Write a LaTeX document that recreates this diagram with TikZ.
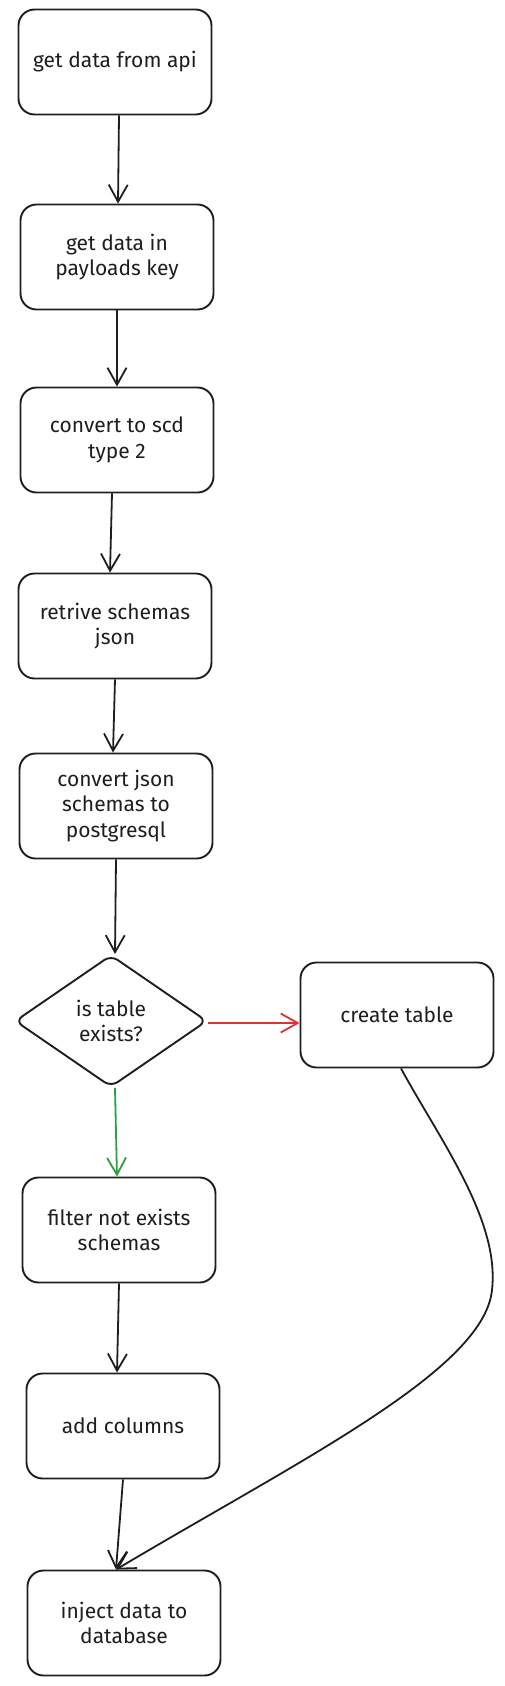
\documentclass[tikz,border=0pt]{standalone}
\usepackage{fontspec}
\setmainfont{Fira Sans}
\usetikzlibrary{shapes.geometric,arrows.meta}
\definecolor{exred}{HTML}{E03131}
\definecolor{exgreen}{HTML}{2F9E44}
\definecolor{exink}{HTML}{1E1E1E}
\tikzset{
  stepbox/.style={draw=exink, line width=1.9pt, rounded corners=16pt, minimum width=193pt, minimum height=105pt, inner sep=4pt, align=center, font=\fontsize{21}{25.5}\selectfont, text=exink},
  decision/.style={draw=exink, line width=1.9pt, diamond, rounded corners=8pt, minimum width=192pt, minimum height=132pt, inner sep=0pt, align=center, font=\fontsize{21}{25.5}\selectfont, text=exink},
  flow/.style={draw=exink, line width=1.8pt, -{Straight Barb[length=17pt,width=19pt]}},
}
\begin{document}
\begin{tikzpicture}[x=1pt,y=-1pt]
\useasboundingbox (0,0) rectangle (504,1686);
\node[stepbox] (api) at (115,62) {get data from api};
\node[stepbox] (payload) at (117,257) {get data in\\payloads key};
\node[stepbox] (scd) at (117,440) {convert to scd\\type 2};
\node[stepbox] (retr) at (115,626) {retrive schemas\\json};
\node[stepbox] (conv) at (116,806) {convert json\\schemas to\\postgresql};
\node[decision] (exists) at (111,1021) {is table\\exists?};
\node[stepbox] (create) at (397,1015) {create table};
\node[stepbox] (filter) at (119,1230) {filter not exists\\schemas};
\node[stepbox] (addcol) at (123,1426) {add columns};
\node[stepbox] (inject) at (124,1623) {inject data to\\database};
\coordinate (bend) at (492,1290);
\draw[flow] ([xshift=4pt]api.south) -- ([xshift=1pt]payload.north);
\draw[flow] (payload.south) -- (scd.north);
\draw[flow] ([xshift=-5pt]scd.south) -- ([xshift=-5pt]retr.north);
\draw[flow] (retr.south) -- ([xshift=-3pt]conv.north);
\draw[flow] (conv.south) -- ([xshift=4pt]exists.north);
\draw[flow, draw=exred] ([yshift=-2pt]exists.east) -- ([yshift=-2pt]exists.east -| create.west);
\draw[flow, draw=exgreen] ([xshift=4pt]exists.south) -- ([xshift=-2pt]filter.north);
\draw[flow] (filter.south) -- ([xshift=-6pt]addcol.north);
\draw[flow] (addcol.south) -- ([xshift=-8pt]inject.north);
\draw[flow] ([xshift=4pt]create.south) .. controls (440,1140) and (500,1220) .. (bend)
  .. controls (484,1370) and (300,1460) .. ([xshift=-8pt]inject.north);
\end{tikzpicture}
\end{document}
